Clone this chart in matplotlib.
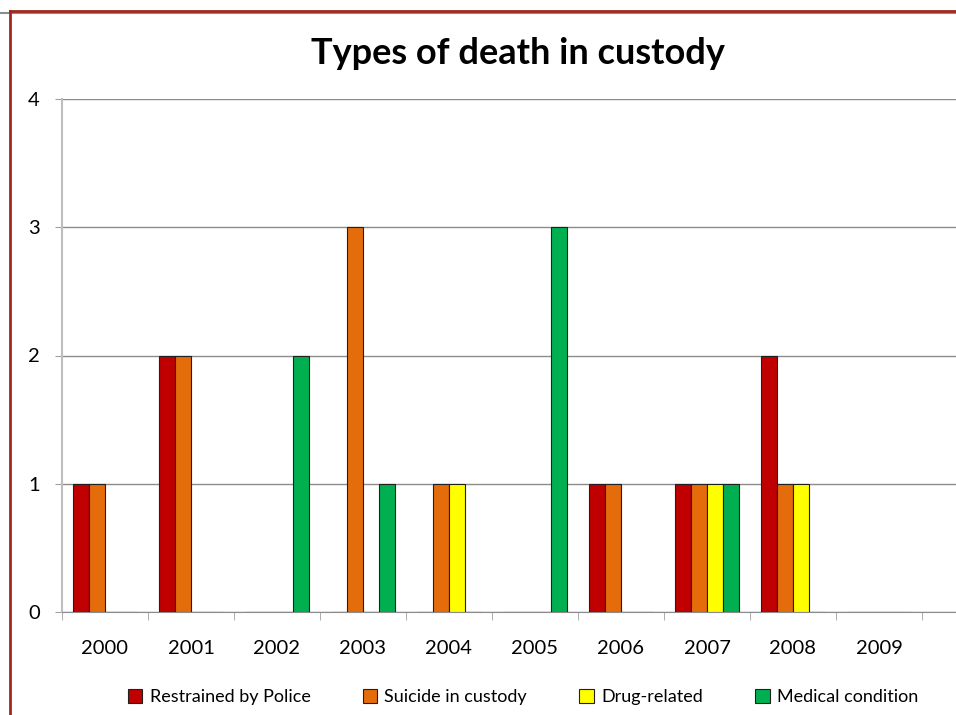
import matplotlib.pyplot as plt
import numpy as np
from matplotlib.lines import Line2D
from matplotlib.patches import Patch

years = ["2000", "2001", "2002", "2003", "2004", "2005", "2006", "2007", "2008", "2009"]
restrained = [1, 2, 0, 0, 0, 0, 1, 1, 2, 0]
suicide = [1, 2, 0, 3, 1, 0, 1, 1, 1, 0]
drug = [0, 0, 0, 0, 1, 0, 0, 1, 1, 0]
medical = [0, 0, 2, 1, 0, 3, 0, 1, 0, 0]

series = [
    ("Restrained by Police", restrained, "#C00000"),
    ("Suicide in custody", suicide, "#E46C0A"),
    ("Drug-related", drug, "#FFFF00"),
    ("Medical condition", medical, "#00B050"),
]

plt.rcParams['font.family'] = ['Lato', 'DejaVu Sans']

fig = plt.figure(figsize=(9.56, 7.15), dpi=100)
ax = fig.add_axes([62 / 956, 103 / 715, 1 - 62 / 956, 513 / 715])

x = np.arange(len(years))
w = 16 / 86
for i, (name, vals, col) in enumerate(series):
    ax.bar(x + (i - 1.5) * w, vals, w, color=col, edgecolor="#202020",
           linewidth=0.8, label=name, zorder=3)

ax.set_xlim(-0.5, 9.5 + 34 / 86)
ax.set_ylim(0, 4)
ax.set_yticks([0, 1, 2, 3, 4])
ax.set_xticks(x)
ax.set_xticklabels(years)
ax.set_xticks(np.arange(-0.5, 10, 1), minor=True)
ax.tick_params(axis="x", which="major", length=0, pad=20, labelsize=14.5)
ax.tick_params(axis="x", which="minor", length=6, color="#A0A0A0", direction="out")
ax.tick_params(axis="y", length=5, color="#A0A0A0", pad=11, labelsize=14.5)
ax.grid(axis="y", color="#8C8C8C", linewidth=1, zorder=0)
for s in ["top", "right"]:
    ax.spines[s].set_visible(False)
ax.spines["left"].set_color("#BEBEBE")
ax.spines["left"].set_linewidth(1.5)
ax.spines["bottom"].set_color("#8C8C8C")

fig.text(518 / 956, 1 - 53 / 715, "Types of death in custody", ha="center",
         va="center", fontsize=26, fontweight="bold")

handles = [Patch(facecolor=c, edgecolor="#202020", linewidth=0.8) for _, _, c in series]
fig.legend(handles, [n for n, _, _ in series], loc="center", ncol=4,
           bbox_to_anchor=(523 / 956, 1 - 697 / 715), frameon=False,
           fontsize=13, handlelength=0.8, handleheight=0.8, handletextpad=0.4,
           columnspacing=2.9)

# slide border
fig.add_artist(Line2D([0, 1], [1 - 12.5 / 715] * 2, color="#8C8C8C", linewidth=1.5))
fig.add_artist(Line2D([10 / 956, 1], [1 - 10.5 / 715] * 2, color="#A0281E", linewidth=2))
fig.add_artist(Line2D([10 / 956] * 2, [0, 1 - 10.5 / 715], color="#A0281E", linewidth=2))

fig.savefig("out.png", dpi=100)
